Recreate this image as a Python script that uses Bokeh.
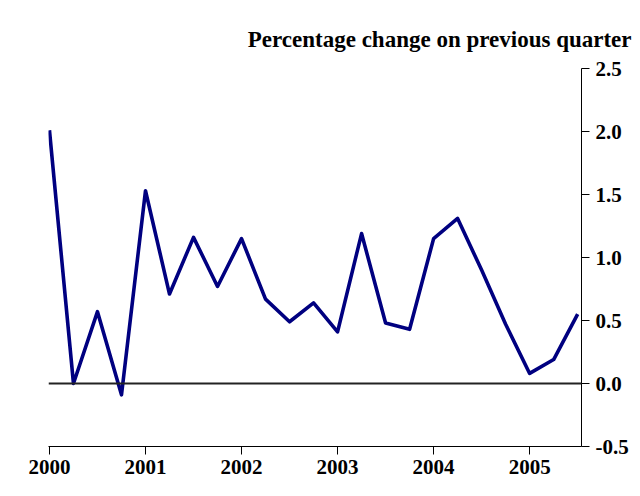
from bokeh.plotting import figure
from bokeh.models import Span, FixedTicker, Range1d
from bokeh.embed import file_html
from bokeh.resources import INLINE

years = [2000, 2001, 2002, 2003, 2004, 2005]
quarters = ["2000Q1", "2000Q2", "2000Q3", "2000Q4",
            "2001Q1", "2001Q2", "2001Q3", "2001Q4",
            "2002Q1", "2002Q2", "2002Q3", "2002Q4",
            "2003Q1", "2003Q2", "2003Q3", "2003Q4",
            "2004Q1", "2004Q2", "2004Q3", "2004Q4",
            "2005Q1", "2005Q2", "2005Q3"]
growth = [2.01, 0.00, 0.57, -0.09,
          1.53, 0.71, 1.16, 0.77,
          1.15, 0.67, 0.49, 0.64,
          0.41, 1.19, 0.48, 0.43,
          1.15, 1.31, 0.90, 0.47,
          0.08, 0.19, 0.55]
y_ticks = [-0.5, 0.0, 0.5, 1.0, 1.5, 2.0, 2.5]
title_text = "Percentage change on previous quarter"

xs = [int(q[:4]) + (int(q[5]) - 1) / 4 for q in quarters]

p = figure(width=632, height=488, output_backend="svg", toolbar_location=None,
           x_range=Range1d(1999.99, 2005.54), y_range=Range1d(-0.5, 2.5),
           y_axis_location="right", title=title_text,
           min_border_left=48, min_border_right=51, min_border_top=68, min_border_bottom=42)
p.grid.visible = False
p.outline_line_color = None
p.background_fill_color = "white"
p.border_fill_color = "white"

p.title.align = "right"
p.title.vertical_align = "top"
p.title.text_font = "Liberation Serif"
p.title.text_font_style = "bold"
p.title.text_font_size = "23px"
p.title.text_color = "black"
p.title.offset = -50
p.title.standoff = 30

p.line(xs, growth, line_color="#000080", line_width=3.6, line_join="round")
p.add_layout(Span(location=0, dimension="width", line_color="#222222", line_width=2))

font = "Liberation Serif"
for ax in (p.xaxis[0], p.yaxis[0]):
    ax.axis_line_color = "black"
    ax.axis_line_width = 1
    ax.major_tick_line_color = "black"
    ax.major_tick_out = 8
    ax.major_tick_in = 0
    ax.minor_tick_line_color = None
    ax.major_label_text_font = font
    ax.major_label_text_font_style = "bold"
    ax.major_label_text_font_size = "21px"
    ax.major_label_text_color = "black"

p.xaxis.ticker = FixedTicker(ticks=years)
p.xaxis.major_label_standoff = 5
p.yaxis.ticker = FixedTicker(ticks=y_ticks)
p.yaxis.major_label_standoff = 6
p.yaxis.major_label_overrides = {-0.5: "-0.5", 0.0: "0.0", 0.5: "0.5", 1.0: "1.0",
                                 1.5: "1.5", 2.0: "2.0", 2.5: "2.5"}

open("out.html", "w").write(file_html(p, INLINE))
